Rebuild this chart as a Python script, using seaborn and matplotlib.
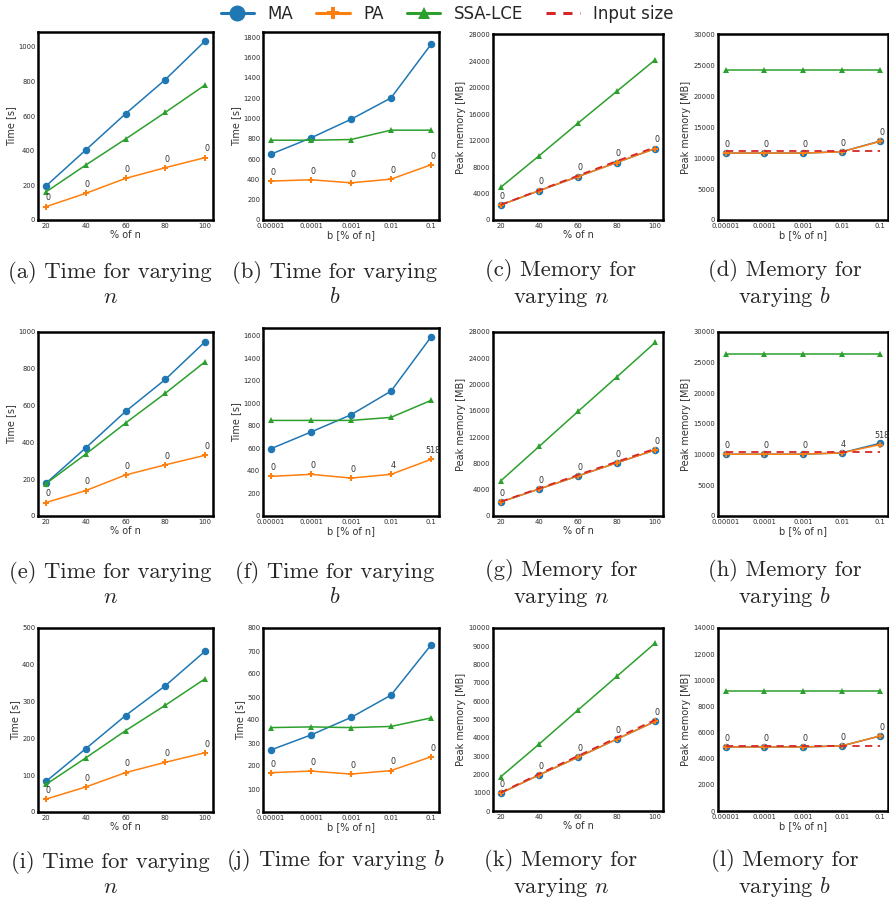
import numpy as np
import pandas as pd
import matplotlib
matplotlib.use("Agg")
import matplotlib.pyplot as plt
from matplotlib.lines import Line2D
import seaborn as sns

# ---------------- data ----------------
n_pct = [20, 40, 60, 80, 100]
b_pct = ["0.00001", "0.0001", "0.001", "0.01", "0.1"]

# Row 1
a_MA = [196, 404, 613, 810, 1033]
a_PA = [77, 154, 240, 302, 360]
a_SSA = [162, 317, 467, 621, 779]
a_ann = ["0", "0", "0", "0", "0"]

b_MA = [648, 808, 991, 1201, 1728]
b_PA = [383, 396, 366, 402, 543]
b_SSA = [785, 785, 792, 884, 884]
b_ann = ["0", "0", "0", "0", "0"]

c_MA = [2270, 4440, 6560, 8680, 10800]
c_PA = [2270, 4440, 6560, 8680, 10800]
c_SSA = [4944, 9738, 14630, 19425, 24218]
c_IN = [2300, 4500, 6700, 8900, 11000]
c_ann = ["0", "0", "0", "0", "0"]

d_MA = [10811, 10811, 10811, 11027, 12757]
d_PA = [10811, 10811, 10811, 11027, 12700]
d_SSA = [24216, 24216, 24216, 24216, 24216]
d_IN = [11081, 11081, 11081, 11081, 11081]
d_ann = ["0", "0", "0", "0", "0"]

# Row 2
e_MA = [178, 370, 568, 742, 947]
e_PA = [73, 138, 223, 278, 330]
e_SSA = [176, 336, 505, 667, 838]
e_ann = ["0", "0", "0", "0", "0"]

f_MA = [598, 746, 899, 1109, 1590]
f_PA = [352, 370, 337, 370, 503]
f_SSA = [849, 849, 849, 876, 1027]
f_ann = ["0", "0", "0", "4", "518"]

g_MA = [2134, 4116, 6098, 8079, 10061]
g_PA = [2134, 4116, 6098, 8079, 10061]
g_SSA = [5336, 10620, 15905, 21138, 26423]
g_IN = [2180, 4220, 6250, 8250, 10250]
g_ann = ["0", "0", "0", "0", "0"]

h_MA = [10072, 10072, 10072, 10290, 11870]
h_PA = [10072, 10072, 10072, 10290, 11650]
h_SSA = [26460, 26460, 26460, 26460, 26460]
h_IN = [10400, 10400, 10400, 10400, 10400]
h_ann = ["0", "0", "0", "4", "518"]

# Row 3
i_MA = [83, 172, 262, 343, 437]
i_PA = [35, 68, 107, 135, 161]
i_SSA = [75, 147, 221, 290, 362]
i_ann = ["0", "0", "0", "0", "0"]

j_MA = [270, 335, 411, 508, 726]
j_PA = [171, 178, 165, 180, 240]
j_SSA = [367, 370, 367, 372, 409]
j_ann = ["0", "0", "0", "0", "0"]

k_MA = [980, 1978, 2940, 3920, 4900]
k_PA = [980, 1978, 2940, 3920, 4900]
k_SSA = [1869, 3666, 5517, 7350, 9183]
k_IN = [1010, 2030, 3010, 4000, 4980]
k_ann = ["0", "0", "0", "0", "0"]

l_MA = [4903, 4903, 4903, 4980, 5742]
l_PA = [4903, 4903, 4903, 4980, 5742]
l_SSA = [9197, 9197, 9197, 9197, 9197]
l_IN = [5005, 5005, 5005, 5005, 5005]
l_ann = ["0", "0", "0", "0", "0"]

captions = [
    "(a) Time for varying\n$n$", "(b) Time for varying\n$b$",
    "(c) Memory for\nvarying $n$", "(d) Memory for\nvarying $b$",
    "(e) Time for varying\n$n$", "(f) Time for varying\n$b$",
    "(g) Memory for\nvarying $n$", "(h) Memory for\nvarying $b$",
    "(i) Time for varying\n$n$", "(j) Time for varying $b$",
    "(k) Memory for\nvarying $n$", "(l) Memory for\nvarying $b$",
]

# ---------------- style ----------------
sns.set_style("white")
plt.rcParams["mathtext.fontset"] = "cm"

C_MA, C_PA, C_SSA, C_IN = "#1f77b4", "#ff7f0e", "#2ca02c", "#d62728"

W, H = 889, 899
fig = plt.figure(figsize=(W / 100, H / 100), dpi=100)

def add_ax(x0, x1, top, bottom):
    return fig.add_axes([x0 / W, 1 - bottom / H, (x1 - x0) / W, (bottom - top) / H])

col_x = [(38, 213), (263, 439), (493, 663), (718, 888)]
row_tb = [[(32, 220), (32, 220), (34, 220), (34, 220)],
          [(332, 516), (328, 516), (332, 516), (332, 516)],
          [(628, 812), (628, 812), (628, 811), (628, 811)]]

panels = [
    # x, MA, PA, SSA, IN, ann, ylim, ystep, ylabel, xlabel
    (n_pct, a_MA, a_PA, a_SSA, None, a_ann, 1085, 200, "Time [s]", "% of n"),
    (b_pct, b_MA, b_PA, b_SSA, None, b_ann, 1850, 200, "Time [s]", "b [% of n]"),
    (n_pct, c_MA, c_PA, c_SSA, c_IN, c_ann, 28100, 4000, "Peak memory [MB]", "% of n"),
    (b_pct, d_MA, d_PA, d_SSA, d_IN, d_ann, 30050, 5000, "Peak memory [MB]", "b [% of n]"),
    (n_pct, e_MA, e_PA, e_SSA, None, e_ann, 1000, 200, "Time [s]", "% of n"),
    (b_pct, f_MA, f_PA, f_SSA, None, f_ann, 1670, 200, "Time [s]", "b [% of n]"),
    (n_pct, g_MA, g_PA, g_SSA, g_IN, g_ann, 28000, 4000, "Peak memory [MB]", "% of n"),
    (b_pct, h_MA, h_PA, h_SSA, h_IN, h_ann, 30000, 5000, "Peak memory [MB]", "b [% of n]"),
    (n_pct, i_MA, i_PA, i_SSA, None, i_ann, 500, 100, "Time [s]", "% of n"),
    (b_pct, j_MA, j_PA, j_SSA, None, j_ann, 800, 100, "Time [s]", "b [% of n]"),
    (n_pct, k_MA, k_PA, k_SSA, k_IN, k_ann, 10000, 1000, "Peak memory [MB]", "% of n"),
    (b_pct, l_MA, l_PA, l_SSA, l_IN, l_ann, 14000, 2000, "Peak memory [MB]", "b [% of n]"),
]

for idx, (xv, ma, pa, ssa, inp, ann, ymax, ystep, ylab, xlab) in enumerate(panels):
    r, c = divmod(idx, 4)
    x0, x1 = col_x[c]
    top, bot = row_tb[r][c]
    ax = add_ax(x0, x1, top, bot)
    lw = 1.1
    sns.lineplot(x=xv, y=ma, ax=ax, color=C_MA, marker="o", markersize=5.4,
                 markeredgewidth=0, lw=lw, sort=False)
    sns.lineplot(x=xv, y=pa, ax=ax, color=C_PA, marker="P", markersize=4.2,
                 markeredgewidth=0, lw=lw, sort=False)
    sns.lineplot(x=xv, y=ssa, ax=ax, color=C_SSA, marker="^", markersize=3.8,
                 markeredgewidth=0, lw=lw, sort=False)
    if inp is not None:
        sns.lineplot(x=xv, y=inp, ax=ax, color=C_IN, lw=1.3, sort=False,
                     linestyle=(0, (4, 3)))
    # annotations above PA points
    pos = list(range(len(xv))) if isinstance(xv[0], str) else xv
    for xp, yp, t in zip(pos, pa, ann):
        ax.annotate(t, (xp, yp), xytext=(1.2, 3.0), textcoords="offset points",
                    ha="center", va="bottom", fontsize=5.8, color="#333333")
    ax.set_ylim(0, ymax)
    ax.set_yticks(np.arange(0, ymax + 1, ystep))
    ax.set_xticks(pos)
    ax.set_xticklabels([str(v) for v in xv])
    ax.set_ylabel(ylab, fontsize=7, color="#333333", labelpad=1.5)
    ax.set_xlabel(xlab, fontsize=7, color="#333333", labelpad=1)
    ax.tick_params(axis="both", length=0, labelsize=4.9, colors="#2a2a2a", pad=2)
    for sp in ax.spines.values():
        sp.set_color("black")
        sp.set_linewidth(1.8)
    if ax.get_legend() is not None:
        ax.get_legend().remove()

# captions
col_cx = [110, 335, 561, 785]
row_cap = [284, 584, 874]
for idx, cap in enumerate(captions):
    r, c = divmod(idx, 4)
    yc = row_cap[r] if "\n" in cap else row_cap[r] - 14
    fig.text(col_cx[c] / W, 1 - yc / H, cap, ha="center", va="center",
             multialignment="center", fontsize=16.3, family="cmr10",
             linespacing=1.22)

handles = [
    Line2D([], [], color=C_MA, marker="o", markersize=11.5, lw=2.2, markeredgewidth=0),
    Line2D([], [], color=C_PA, marker="P", markersize=9, lw=2.2, markeredgewidth=0),
    Line2D([], [], color=C_SSA, marker="^", markersize=9, lw=2.2, markeredgewidth=0),
    Line2D([], [], color=C_IN, lw=2.2, linestyle=(0, (3, 2.5))),
]
fig.legend(handles, ["MA", "PA", "SSA-LCE", "Input size"], loc="center",
           bbox_to_anchor=(447 / W, 1 - 14 / H), ncol=4, frameon=False,
           fontsize=12, handlelength=2.0, columnspacing=1.4, handletextpad=0.8)

fig.savefig("out.png", dpi=100)
